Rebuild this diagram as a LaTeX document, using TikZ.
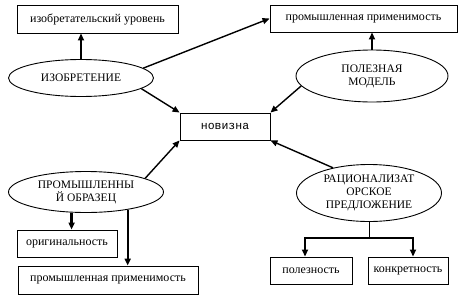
\documentclass[tikz,border=0pt]{standalone}
\usepackage{fontspec}
\setmainfont{Liberation Serif}
\setmonofont{Liberation Mono}
\usetikzlibrary{shapes.geometric,arrows.meta}

\tikzset{
  box/.style={draw, line width=0.9pt, inner sep=0pt, font=\fontsize{12}{13}\selectfont},
  oval/.style={draw, ellipse, line width=0.9pt, inner sep=0pt, align=center, font=\fontsize{11.5}{13}\selectfont},
  link/.style={line width=1.4pt, -{Triangle[length=7pt,width=6pt]}},
  bold link/.style={line width=2.2pt, -{Triangle[length=7pt,width=6pt]}}
}

\begin{document}
\begin{tikzpicture}[x=1pt,y=-1pt]
    \useasboundingbox (0,0) rectangle (470,300);

    % Centre
    \node[box, minimum width=90, minimum height=27, font=\ttfamily\fontsize{11.5}{13}\selectfont] (novelty) at (225,126.5) {новизна};

    % Ovals
    \node[oval, minimum width=145, minimum height=37] (invent) at (81,78) {ИЗОБРЕТЕНИЕ};
    \node[oval, minimum width=152, minimum height=52] (useful) at (372,76) {ПОЛЕЗНАЯ\\МОДЕЛЬ};
    \node[oval, minimum width=155, minimum height=41] (design) at (86,192) {ПРОМЫШЛЕННЫ\\Й ОБРАЗЕЦ};
    \node[oval, minimum width=145, minimum height=57] (rational) at (369,193) {РАЦИОНАЛИЗАТ\\ОРСКОЕ\\ПРЕДЛОЖЕНИЕ};

    % Criteria
    \node[box, minimum width=161, minimum height=28] (level) at (97.5,19) {изобретательский уровень};
    \node[box, minimum width=187, minimum height=27] (applyA) at (363.5,18.5) {промышленная применимость};
    \node[box, minimum width=100, minimum height=27] (original) at (67,243.5) {оригинальность};
    \node[box, minimum width=180, minimum height=28] (applyB) at (108,280) {промышленная применимость};
    \node[box, minimum width=82, minimum height=27] (usefulness) at (311,270.5) {полезность};
    \node[box, minimum width=80, minimum height=27] (concrete) at (408,270.5) {конкретность};

    % Links to novelty
    \draw[link] (invent.-10) -- (novelty.north west);
    \draw[link] (useful.188) -- (novelty.north east);
    \draw[link] (design.13) -- (novelty.south west);
    \draw[link] (rational.145) -- (novelty.south east);

    % Other links
    \draw[link] (invent.9) -- (applyA.west);
    \draw[bold link] (invent.north) -- (invent.north |- level.south);
    \draw[bold link] (useful.north) -- (useful.north |- applyA.south);
    \draw[bold link] (design.235) -- (design.235 |- original.north);
    \draw[bold link] (design.-23) -- (design.-23 |- applyB.north);

    % Fork
    \draw[line width=1pt] (rational.south) -- ++(0,16) coordinate (fork);
    \draw[bold link] (fork) -| ([xshift=-6pt]usefulness.north);
    \draw[bold link] (fork) -| ([xshift=5pt]concrete.north);
\end{tikzpicture}
\end{document}
